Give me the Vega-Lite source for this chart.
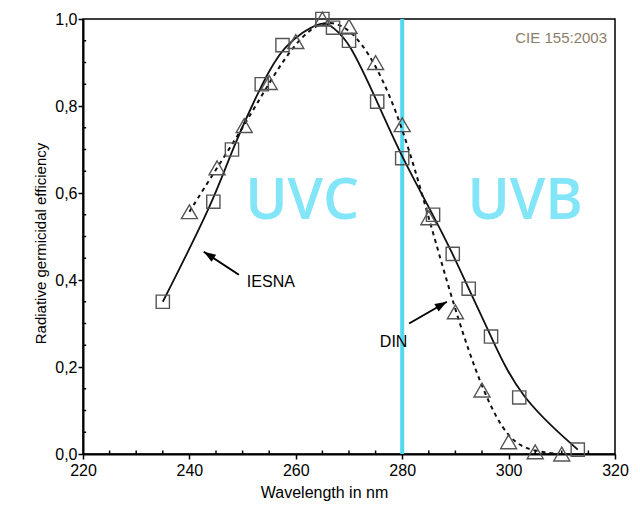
{
  "$schema": "https://vega.github.io/schema/vega-lite/v6.json",
  "autosize": "none",
  "width": 532,
  "height": 435,
  "padding": {"left": 83, "top": 19, "right": 25, "bottom": 57},
  "background": "white",
  "config": {
    "view": {"stroke": "#000", "strokeWidth": 1.5},
    "font": "Liberation Sans",
    "axis": {"grid": false, "domainColor": "#000", "domainWidth": 2, "ticks": true, "tickSize": 5, "tickColor": "#000", "tickWidth": 1.5, "labelColor": "#000", "titleColor": "#000", "labelFont": "Liberation Sans", "titleFont": "Liberation Sans", "titleFontWeight": "normal", "labelFlush": false, "labelOverlap": false}
  },
  "datasets": {
    "curves": [
      {"series": "IESNA", "wl": 235, "eff": 0.35},
      {"series": "IESNA", "wl": 244.5, "eff": 0.58},
      {"series": "IESNA", "wl": 248, "eff": 0.70},
      {"series": "IESNA", "wl": 253.6, "eff": 0.85},
      {"series": "IESNA", "wl": 257.5, "eff": 0.94},
      {"series": "IESNA", "wl": 265, "eff": 1.0},
      {"series": "IESNA", "wl": 267, "eff": 0.98},
      {"series": "IESNA", "wl": 270, "eff": 0.95},
      {"series": "IESNA", "wl": 275.3, "eff": 0.81},
      {"series": "IESNA", "wl": 280, "eff": 0.68},
      {"series": "IESNA", "wl": 285.8, "eff": 0.55},
      {"series": "IESNA", "wl": 289.5, "eff": 0.46},
      {"series": "IESNA", "wl": 292.5, "eff": 0.38},
      {"series": "IESNA", "wl": 296.7, "eff": 0.27},
      {"series": "IESNA", "wl": 302, "eff": 0.13},
      {"series": "IESNA", "wl": 313, "eff": 0.01},
      {"series": "DIN", "wl": 240, "eff": 0.557},
      {"series": "DIN", "wl": 245.2, "eff": 0.658},
      {"series": "DIN", "wl": 250.3, "eff": 0.755},
      {"series": "DIN", "wl": 255, "eff": 0.854},
      {"series": "DIN", "wl": 260, "eff": 0.948},
      {"series": "DIN", "wl": 265, "eff": 1.0},
      {"series": "DIN", "wl": 270, "eff": 0.983},
      {"series": "DIN", "wl": 275, "eff": 0.90},
      {"series": "DIN", "wl": 280, "eff": 0.757},
      {"series": "DIN", "wl": 285, "eff": 0.543},
      {"series": "DIN", "wl": 290, "eff": 0.327},
      {"series": "DIN", "wl": 295, "eff": 0.147},
      {"series": "DIN", "wl": 300, "eff": 0.028},
      {"series": "DIN", "wl": 305, "eff": 0.005},
      {"series": "DIN", "wl": 310, "eff": 0.0}
    ],
    "arrows": [
      {"label": "IESNA", "x": 249.3, "y": 0.412, "x2": 242.7, "y2": 0.465, "tx": 250.8, "ty": 0.396},
      {"label": "DIN", "x": 281.3, "y": 0.30, "x2": 288.4, "y2": 0.35, "tx": 275.8, "ty": 0.258}
    ],
    "bands": [
      {"band": "UVC", "x": 261.2, "y": 0.58},
      {"band": "UVB", "x": 303.1, "y": 0.58}
    ],
    "minorX": [
      {"wl": 225}, {"wl": 230}, {"wl": 235}, {"wl": 245}, {"wl": 250}, {"wl": 255},
      {"wl": 265}, {"wl": 270}, {"wl": 275}, {"wl": 285}, {"wl": 290}, {"wl": 295},
      {"wl": 305}, {"wl": 310}, {"wl": 315}
    ],
    "minorY": [
      {"eff": 0.05}, {"eff": 0.1}, {"eff": 0.15}, {"eff": 0.25}, {"eff": 0.3}, {"eff": 0.35},
      {"eff": 0.45}, {"eff": 0.5}, {"eff": 0.55}, {"eff": 0.65}, {"eff": 0.7}, {"eff": 0.75},
      {"eff": 0.85}, {"eff": 0.9}, {"eff": 0.95}
    ]
  },
  "layer": [
    {
      "data": {"values": [{"x": 280}]},
      "mark": {"type": "rule", "color": "#52d8f0", "strokeWidth": 4},
      "encoding": {
        "x": {"field": "x", "type": "quantitative", "scale": {"domain": [220, 320], "nice": false, "zero": false},
          "axis": {"title": "Wavelength in nm", "titleFontSize": 16, "titleX": 241, "titleY": 43, "titleBaseline": "alphabetic",
            "values": [220, 240, 260, 280, 300, 320],
            "format": "d", "labelFontSize": 16, "labelPadding": 3}}
      }
    },
    {
      "data": {"name": "bands"},
      "mark": {"type": "text", "font": "Open Sans", "fontWeight": 600, "fontSize": 57, "color": "#82e5f8", "align": "center", "baseline": "middle"},
      "encoding": {
        "x": {"field": "x", "type": "quantitative"},
        "y": {"field": "y", "type": "quantitative", "scale": {"domain": [0, 1], "nice": false, "zero": false},
          "axis": {"title": "Radiative germicidal efficiency", "titleFontSize": 15, "titleX": -43, "titleY": 224, "titleBaseline": "middle",
            "values": [0, 0.2, 0.4, 0.6, 0.8, 1],
            "labelExpr": "replace(format(datum.value, '.1f'), '.', ',')",
            "labelFontSize": 16, "labelPadding": 1}},
        "text": {"field": "band"}
      }
    },
    {
      "data": {"name": "minorX"},
      "mark": {"type": "rule", "color": "#000", "strokeWidth": 1.5},
      "encoding": {
        "x": {"field": "wl", "type": "quantitative"},
        "y": {"datum": 0, "type": "quantitative"},
        "y2": {"datum": 0.008}
      }
    },
    {
      "data": {"name": "minorY"},
      "mark": {"type": "rule", "color": "#000", "strokeWidth": 1.5},
      "encoding": {
        "y": {"field": "eff", "type": "quantitative"},
        "x": {"datum": 220, "type": "quantitative"},
        "x2": {"datum": 220.6}
      }
    },
    {
      "data": {"name": "curves"},
      "transform": [{"filter": "datum.series === 'IESNA'"}],
      "mark": {"type": "line", "interpolate": "basis", "color": "#111", "strokeWidth": 1.8},
      "encoding": {"x": {"field": "wl", "type": "quantitative"}, "y": {"field": "eff", "type": "quantitative"}}
    },
    {
      "data": {"name": "curves"},
      "transform": [{"filter": "datum.series === 'DIN'"}],
      "mark": {"type": "line", "interpolate": "basis", "color": "#111", "strokeWidth": 2, "strokeDash": [4, 4]},
      "encoding": {"x": {"field": "wl", "type": "quantitative"}, "y": {"field": "eff", "type": "quantitative"}}
    },
    {
      "data": {"name": "curves"},
      "transform": [{"filter": "datum.series === 'IESNA'"}],
      "mark": {"type": "point", "shape": "square", "size": 175, "filled": false, "stroke": "#555", "strokeWidth": 1.4, "opacity": 1},
      "encoding": {"x": {"field": "wl", "type": "quantitative"}, "y": {"field": "eff", "type": "quantitative"}}
    },
    {
      "data": {"name": "curves"},
      "transform": [{"filter": "datum.series === 'DIN'"}],
      "mark": {"type": "point", "shape": "triangle-up", "size": 256, "filled": false, "stroke": "#555", "strokeWidth": 1.4, "opacity": 1},
      "encoding": {"x": {"field": "wl", "type": "quantitative"}, "y": {"field": "eff", "type": "quantitative"}}
    },
    {
      "data": {"name": "arrows"},
      "mark": {"type": "rule", "color": "#000", "strokeWidth": 2},
      "encoding": {
        "x": {"field": "x", "type": "quantitative"}, "y": {"field": "y", "type": "quantitative"},
        "x2": {"field": "x2"}, "y2": {"field": "y2"}
      }
    },
    {
      "data": {"name": "arrows"},
      "transform": [{"filter": "datum.label === 'IESNA'"}],
      "mark": {"type": "point", "shape": "M0,0L0.7,2L-0.7,2Z", "size": 144, "filled": true, "color": "#000", "opacity": 1, "angle": 303},
      "encoding": {"x": {"field": "x2", "type": "quantitative"}, "y": {"field": "y2", "type": "quantitative"}}
    },
    {
      "data": {"name": "arrows"},
      "transform": [{"filter": "datum.label === 'DIN'"}],
      "mark": {"type": "point", "shape": "M0,0L0.7,2L-0.7,2Z", "size": 144, "filled": true, "color": "#000", "opacity": 1, "angle": 60},
      "encoding": {"x": {"field": "x2", "type": "quantitative"}, "y": {"field": "y2", "type": "quantitative"}}
    },
    {
      "data": {"name": "arrows"},
      "mark": {"type": "text", "fontSize": 16, "align": "left", "baseline": "middle", "color": "#000"},
      "encoding": {"x": {"field": "tx", "type": "quantitative"}, "y": {"field": "ty", "type": "quantitative"}, "text": {"field": "label"}}
    },
    {
      "data": {"values": [{"label": "CIE 155:2003", "x": 318.5, "y": 0.957}]},
      "mark": {"type": "text", "fontSize": 15, "align": "right", "baseline": "middle", "color": "#8b7d6b"},
      "encoding": {"x": {"field": "x", "type": "quantitative"}, "y": {"field": "y", "type": "quantitative"}, "text": {"field": "label"}}
    }
  ]
}
